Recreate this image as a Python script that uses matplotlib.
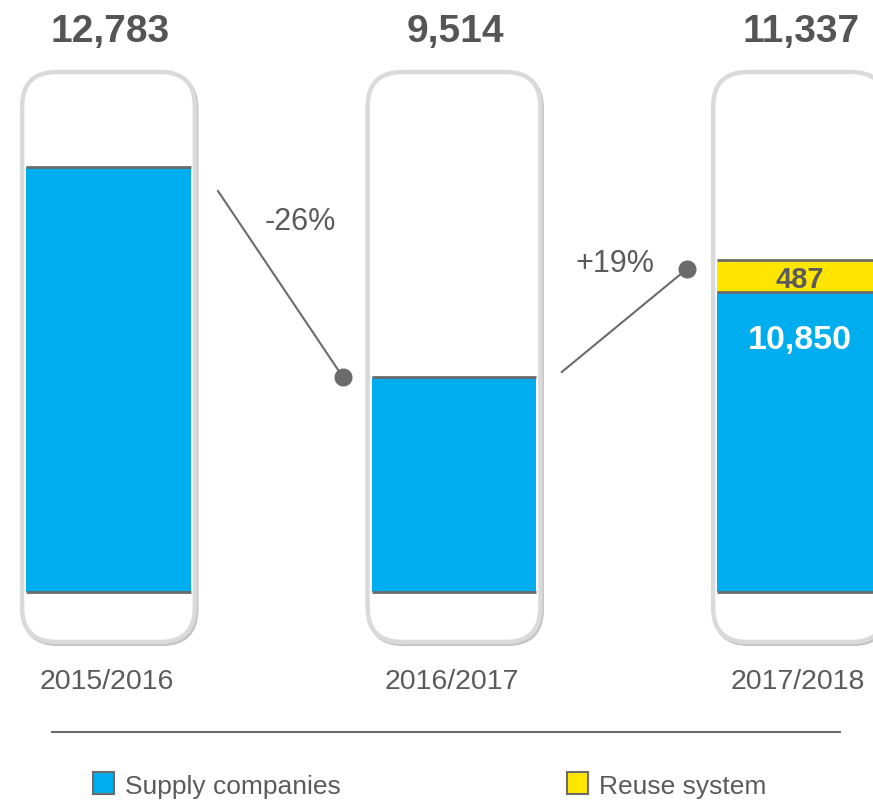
import numpy as np
import matplotlib
matplotlib.use('Agg')
import matplotlib.pyplot as plt
from matplotlib.patches import FancyBboxPatch, Patch
from matplotlib.lines import Line2D

plt.rcParams['font.family'] = ['Liberation Sans', 'DejaVu Sans']

# data
years = ['2015/2016', '2016/2017', '2017/2018']
supply = [12783, 9514, 10850]
reuse = [0, 0, 487]
totals = [s + r for s, r in zip(supply, reuse)]

BLUE = '#00aeef'
YELLOW = '#ffe600'
GREY = '#5b5b5b'
EDGE = '#6b6b6b'

# infographic scale: bars start at a floor value, not at zero
BASE = 6170
PXU = 0.0642          # pixels per unit
XPX = 345.5           # pixels between tubes
X0PX = 108.5

fig = plt.figure(figsize=(8.73, 8.03), dpi=100)
ax = fig.add_axes([0, 0, 1, 1])
ax.set_xlim(-X0PX / XPX, (873 - X0PX) / XPX)
ax.set_ylim(BASE - (803 - 593) / PXU, BASE + 593 / PXU)
ax.axis('off')

x = np.arange(len(years))
tube_lo = BASE - 50 / PXU
tube_hi = BASE + 520 / PXU
aspect = (1 / PXU) / (1 / XPX)

for xi in x:
    shadow = FancyBboxPatch((xi - 0.25 + 1.5 / XPX, tube_lo - 2 / PXU), 0.5, tube_hi - tube_lo,
                            boxstyle='round,pad=0,rounding_size=0.1', mutation_aspect=aspect,
                            facecolor='none', edgecolor='#c4c4c4', lw=3, zorder=1)
    ax.add_patch(shadow)
    tube = FancyBboxPatch((xi - 0.25, tube_lo), 0.5, tube_hi - tube_lo,
                          boxstyle='round,pad=0,rounding_size=0.1', mutation_aspect=aspect,
                          facecolor='white', edgecolor='#dadada', lw=3.2, zorder=2)
    ax.add_patch(tube)

bw = 0.475
ax.bar(x, np.array(supply) - BASE, bottom=BASE, width=bw, color=BLUE, zorder=3)
ax.bar(x, reuse, bottom=supply, width=bw, color=YELLOW, zorder=3)
ax.hlines(totals, x - bw / 2, x + bw / 2, color=EDGE, lw=2, zorder=4)
ax.hlines([BASE] * len(x), x - bw / 2, x + bw / 2, color=EDGE, lw=2, zorder=4)
for xi, s, r in zip(x, supply, reuse):
    if r > 0:
        ax.hlines(s, xi - bw / 2, xi + bw / 2, color=EDGE, lw=2, zorder=4)
        ax.text(xi, s + r / 2, f'{r:,}', ha='center', va='center_baseline', fontsize=21,
                fontweight='bold', color=GREY, zorder=5)
        ax.annotate(f'{s:,}', (xi, s), xytext=(0, -48), textcoords='offset pixels',
                    ha='center', va='center', fontsize=24.5, fontweight='bold',
                    color='white', zorder=5)

# totals and year labels
tr = ax.get_xaxis_transform()
for xi, t, yr in zip(x, totals, years):
    ax.text(xi + 0.005, 1 - 32 / 803, f'{t:,}', transform=tr, ha='center', va='center',
            fontsize=28, fontweight='bold', color='#555555')
    ax.text(xi - 0.005, 1 - 682 / 803, yr, transform=tr, ha='center', va='center',
            fontsize=20.5, color=GREY)

# change connectors
conn_x0 = [0.317, 1.312]
conn_y0 = [12415, 9597]
conn_x1 = [0.679, 1.674]
conn_y1 = [9514, 11201]
lab_x = [0.554, 1.466]
lab_y = [11949, 11295]
for i in range(2):
    ax.plot([conn_x0[i], conn_x1[i]], [conn_y0[i], conn_y1[i]], color=EDGE, lw=1.5, zorder=6)
    ax.plot(conn_x1[i], conn_y1[i], 'o', color=EDGE, ms=12, zorder=6)
    pct = round((totals[i + 1] / totals[i] - 1) * 100)
    ax.text(lab_x[i], lab_y[i], f'{pct:+d}%', ha='center', va='center', fontsize=22,
            color=GREY, zorder=6)

# rule and legend
fig.add_artist(Line2D([52 / 873, 840 / 873], [1 - 733 / 803] * 2, color=EDGE, lw=1.5))
handles = [Patch(facecolor=BLUE, edgecolor=EDGE, lw=1.5, label='Supply companies'),
           Patch(facecolor=YELLOW, edgecolor=EDGE, lw=1.5, label='Reuse system')]
fig.legend(handles=handles, loc='center left', bbox_to_anchor=(93 / 873, 1 - 786 / 803),
           ncol=2, frameon=False, fontsize=19, handlelength=0.8, handleheight=0.9,
           handletextpad=0.4, columnspacing=8.6, borderpad=0, borderaxespad=0,
           labelcolor=GREY)

fig.savefig('out.png', dpi=100)
